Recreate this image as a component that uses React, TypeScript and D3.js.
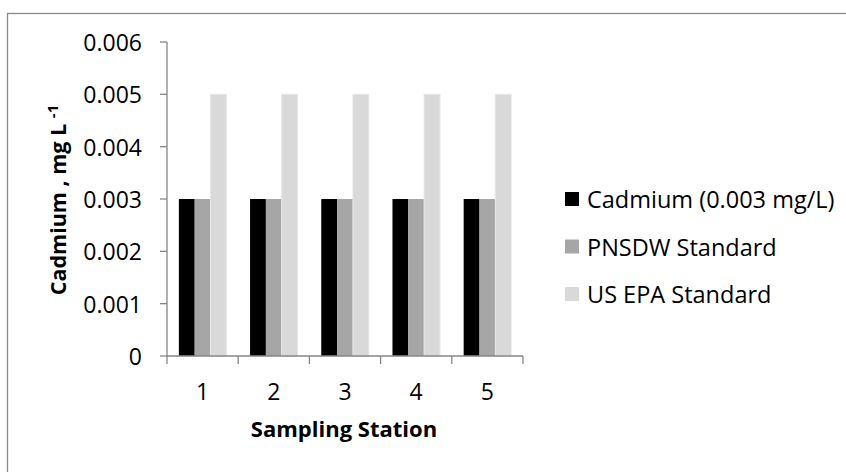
import React from "react";
import * as d3 from "d3";

const stations = ["1", "2", "3", "4", "5"];
const seriesNames = ["Cadmium (0.003 mg/L)", "PNSDW Standard", "US EPA Standard"];
const cadmium = [0.003, 0.003, 0.003, 0.003, 0.003];
const pnsdw = [0.003, 0.003, 0.003, 0.003, 0.003];
const usepa = [0.005, 0.005, 0.005, 0.005, 0.005];
const yTicks = [0, 0.001, 0.002, 0.003, 0.004, 0.005, 0.006];
const yTickLabels = ["0", "0.001", "0.002", "0.003", "0.004", "0.005", "0.006"];
const colors = ["#000000", "#a6a6a6", "#d9d9d9"];

const W = 846;
const H = 472;
const FONT = "'Open Sans', 'Noto Sans', sans-serif";

export default function App() {
  const series = [cadmium, pnsdw, usepa];
  const x = d3.scaleBand<string>().domain(stations).range([167, 523]).paddingInner(1 / 3).paddingOuter(1 / 6);
  const xs = d3.scaleBand<number>().domain([0, 1, 2]).range([0, x.bandwidth()]).padding(0);
  const y = d3.scaleLinear().domain([0, 0.006]).range([356, 42]);
  const step = x.step();
  const axisColor = "#868686";

  return (
    <svg width={W} height={H} style={{ position: "fixed", left: 0, top: 0, background: "#fff" }} fontFamily={FONT}>
      <rect x={0} y={0} width={W} height={H} fill="#fff" />
      <rect x={7.5} y={13.5} width={W + 50} height={H + 50} fill="none" stroke="#8a8a8a" strokeWidth={1.3} />

      {/* bars */}
      {stations.map((s, i) =>
        series.map((vals, k) => (
          <rect
            key={s + "-" + k}
            x={(x(s) as number) + (xs(k) as number)}
            y={y(vals[i])}
            width={xs.bandwidth()}
            height={y(0) - y(vals[i])}
            fill={colors[k]}
            stroke={k === 2 ? "#e6e6e6" : "none"}
            strokeWidth={k === 2 ? 1 : 0}
          />
        ))
      )}

      {/* y axis */}
      <line x1={167} x2={167} y1={y(0.006)} y2={y(0)} stroke={axisColor} strokeWidth={1.3} />
      {yTicks.map((t, i) => (
        <g key={"yt" + i}>
          <line x1={160} x2={167} y1={y(t)} y2={y(t)} stroke={axisColor} strokeWidth={1.3} />
          <text x={142} y={y(t)} textAnchor="end" dominantBaseline="central" fontSize={23} fill="#000">
            {yTickLabels[i]}
          </text>
        </g>
      ))}

      {/* x axis */}
      <line x1={167} x2={523} y1={y(0)} y2={y(0)} stroke={axisColor} strokeWidth={1.3} />
      {d3.range(stations.length + 1).map((j) => (
        <line key={"xt" + j} x1={167 + j * step} x2={167 + j * step} y1={y(0)} y2={y(0) + 8} stroke={axisColor} strokeWidth={1.3} />
      ))}
      {stations.map((s) => (
        <text key={"xl" + s} x={(x(s) as number) + x.bandwidth() / 2} y={400} textAnchor="middle" fontSize={23} fill="#000">
          {s}
        </text>
      ))}

      {/* axis titles */}
      <text x={344} y={437} textAnchor="middle" fontSize={22} fontWeight="bold" fill="#000">
        Sampling Station
      </text>
      <text transform="translate(66,200) rotate(-90)" textAnchor="middle" fontSize={21.5} fontWeight="bold" fill="#000">
        <tspan>Cadmium , mg L </tspan>
        <tspan dy={-8} fontSize={15}>-1</tspan>
      </text>

      {/* legend */}
      {seriesNames.map((n, k) => (
        <g key={"lg" + k} transform={`translate(565, ${192 + k * 47.5})`}>
          <rect x={0} y={0} width={14} height={14} fill={colors[k]} />
          <text x={22} y={7} dominantBaseline="central" fontSize={23.5} fill="#000">
            {n}
          </text>
        </g>
      ))}
    </svg>
  );
}
